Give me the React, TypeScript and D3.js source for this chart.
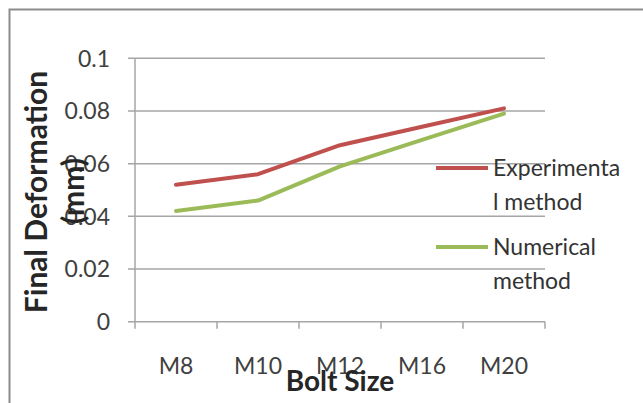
import React from "react";
import * as d3 from "d3";

// Bolt sizes on the category axis
const boltSizes = ["M8", "M10", "M12", "M16", "M20"];
// Final deformation (mm) per bolt size
const experimental = [0.052, 0.056, 0.067, 0.074, 0.081];
const numerical = [0.042, 0.046, 0.059, 0.069, 0.079];
// Value axis ticks
const yTicks = [0, 0.02, 0.04, 0.06, 0.08, 0.1];

const seriesNames = [["Experimenta", "l method"], ["Numerical", "method"]];
const seriesColors = ["#C0504D", "#9BBB59"];

const W = 643;
const H = 403;
const FONT = "Lato, 'Open Sans', sans-serif";

export default function App() {
  const x = d3.scaleBand<string>().domain(boltSizes).range([135, 545]);
  const y = d3.scaleLinear().domain([0, 0.1]).range([321.7, 58.3]);

  const line = d3
    .line<number>()
    .x((_, i) => (x(boltSizes[i]) as number) + x.bandwidth() / 2)
    .y((d) => y(d));

  const series = [experimental, numerical];
  const bandEdges = boltSizes.map((c) => x(c) as number).concat([x.range()[1]]);

  return (
    <svg
      width={W}
      height={H}
      style={{ position: "absolute", left: 0, top: 0, background: "#fff" }}
    >
      <rect x={0} y={0} width={W} height={H} fill="#ffffff" />
      {/* chart frame */}
      <rect x={9.5} y={9.5} width={W + 20} height={H + 20} fill="#fff" stroke="#8c8c8c" strokeWidth={2} />

      {/* gridlines */}
      {yTicks.map((t) => (
        <line
          key={"g" + t}
          x1={128}
          x2={545}
          y1={y(t)}
          y2={y(t)}
          stroke="#a6a6a6"
          strokeWidth={1.5}
        />
      ))}
      {/* value axis */}
      <line x1={135} x2={135} y1={y(0.1)} y2={y(0)} stroke="#a6a6a6" strokeWidth={1.5} />
      {/* category ticks */}
      {bandEdges.map((e, i) => (
        <line key={"t" + i} x1={e} x2={e} y1={y(0)} y2={y(0) + 7} stroke="#a6a6a6" strokeWidth={1.5} />
      ))}

      {/* value tick labels */}
      {yTicks.map((t) => (
        <text
          key={"yl" + t}
          x={110}
          y={y(t)}
          dy="0.36em"
          textAnchor="end"
          fontFamily={FONT}
          fontSize={23}
          fill="#404040"
        >
          {d3.format("~g")(t)}
        </text>
      ))}

      {/* category labels */}
      {boltSizes.map((c) => (
        <text
          key={"xl" + c}
          x={(x(c) as number) + x.bandwidth() / 2}
          y={374}
          textAnchor="middle"
          fontFamily={FONT}
          fontSize={23}
          fill="#404040"
        >
          {c}
        </text>
      ))}

      {/* series lines */}
      {series.map((s, i) => (
        <path
          key={"s" + i}
          d={line(s) as string}
          fill="none"
          stroke={seriesColors[i]}
          strokeWidth={4}
          strokeLinejoin="round"
          strokeLinecap="round"
        />
      ))}

      {/* axis titles */}
      <text
        transform="translate(47,192) rotate(-90)"
        textAnchor="middle"
        fontFamily={FONT}
        fontWeight="bold"
        fontSize={30}
        fill="#262626"
      >
        Final Deformation
      </text>
      <text
        transform="translate(84,191) rotate(-90)"
        textAnchor="middle"
        fontFamily={FONT}
        fontWeight="bold"
        fontSize={30}
        fill="#262626"
      >
        (mm)
      </text>
      <text
        x={340}
        y={391}
        textAnchor="middle"
        fontFamily={FONT}
        fontWeight="bold"
        fontSize={28}
        fill="#262626"
      >
        Bolt Size
      </text>

      {/* legend */}
      {seriesNames.map((name, i) => {
        const cy = i === 0 ? 168 : 247;
        return (
          <g key={"lg" + i}>
            <line x1={436} x2={488} y1={cy} y2={cy} stroke={seriesColors[i]} strokeWidth={4} />
            {name.map((part, j) => (
              <text
                key={j}
                x={493}
                y={cy + 8 + j * 34}
                fontFamily={FONT}
                fontSize={23}
                fill="#333"
              >
                {part}
              </text>
            ))}
          </g>
        );
      })}
    </svg>
  );
}
